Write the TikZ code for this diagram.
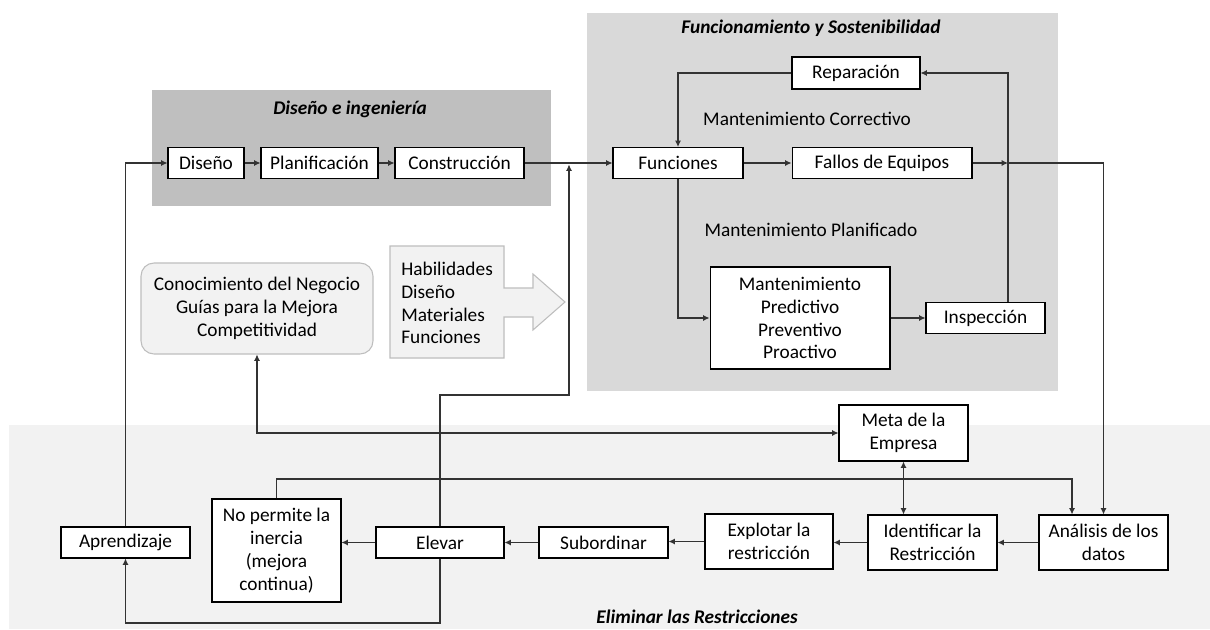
\documentclass[tikz,border=0pt]{standalone}
\usepackage{fontspec}
\setmainfont{Carlito}
\definecolor{bgdark}{RGB}{191,191,191}
\definecolor{bgmid}{RGB}{217,217,217}
\definecolor{bglight}{RGB}{242,242,242}
\definecolor{edgesoft}{RGB}{190,190,190}
\usetikzlibrary{arrows.meta,calc}
\tikzset{
  box/.style={draw=black,line width=0.6pt,fill=white,inner sep=0pt,align=center,
    font=\fontsize{11}{13}\selectfont},
  titletext/.style={font=\fontsize{11}{13}\selectfont\bfseries\itshape},
  plain/.style={font=\fontsize{11}{13}\selectfont},
  link/.style={draw=black!80,line width=0.6pt,-{Latex[length=3.6pt,width=3.4pt]}},
  dlink/.style={draw=black!80,line width=0.6pt,{Latex[length=3.6pt,width=3.4pt]}-{Latex[length=3.6pt,width=3.4pt]}}
}
\begin{document}
\begin{tikzpicture}[x=0.02cm,y=-0.02cm]
        \fill[white] (0,0) rectangle (1210,629);
        \fill[bgdark] (152,90) rectangle (551,206);
        \fill[bgmid] (587,13) rectangle (1058,391);
        \fill[bglight] (9,425) rectangle (1210,629);
        \node[titletext] (tdis) at (350,109) {Diseño e ingeniería};
        \node[titletext] (tfun) at (811,28) {Funcionamiento y Sostenibilidad};
        \node[titletext] (telim) at (697,617) {Eliminar las Restricciones};
        \node[plain] (lcorr) at (807,119) {Mantenimiento Correctivo};
        \node[plain] (lplan) at (811,230) {Mantenimiento Planificado};

        \node[box,minimum width=1.52cm,minimum height=0.62cm] (diseno) at (206,163) {Diseño};
        \node[box,minimum width=2.34cm,minimum height=0.62cm] (planif) at (319.5,163) {Planificación};
        \node[box,minimum width=2.58cm,minimum height=0.62cm] (constr) at (459.5,163) {Construcción};
        \node[box,minimum width=2.6cm,minimum height=0.62cm] (funciones) at (678,163) {Funciones};
        \node[box,minimum width=3.6cm,minimum height=0.62cm] (fallos) at (882,163) {Fallos de Equipos};
        \node[box,minimum width=2.56cm,minimum height=0.64cm] (reparacion) at (856,73) {Reparación};
        \node[box,minimum width=3.6cm,minimum height=2.04cm] (mantenim) at (800,318)
          {Mantenimiento\\Predictivo\\Preventivo\\Proactivo};
        \node[box,minimum width=2.38cm,minimum height=0.62cm] (inspeccion) at (985.5,318) {Inspección};

        \node[box,draw=edgesoft,fill=bglight,rounded corners=0.26cm,minimum width=4.64cm,
          minimum height=1.82cm] (conocim) at (257,308.5)
          {Conocimiento del Negocio\\Guías para la Mejora\\Competitividad};
        \draw[edgesoft,fill=bglight,line width=0.6pt] (390,246) -- (504,246) -- (504,288)
          -- (533,288) -- (533,274) -- (565,302) -- (533,330) -- (533,317) -- (504,317)
          -- (504,358) -- (390,358) -- cycle;
        \node[plain,anchor=west,align=left,inner sep=0pt] (habil) at (401,303)
          {Habilidades\\Diseño\\Materiales\\Funciones};

        \node[box,minimum width=2.58cm,minimum height=1.12cm] (meta) at (903.5,433) {Meta de la\\Empresa};
        \node[box,minimum width=2.58cm,minimum height=1.1cm] (analisis) at (1103.5,542.5) {Análisis de los\\datos};
        \node[box,minimum width=2.58cm,minimum height=1.1cm] (identificar) at (932.5,542.5) {Identificar la\\Restricción};
        \node[box,minimum width=2.56cm,minimum height=1.1cm] (explotar) at (769,541.5) {Explotar la\\restricción};
        \node[box,minimum width=2.58cm,minimum height=0.62cm] (subordinar) at (603.5,542.5) {Subordinar};
        \node[box,minimum width=2.56cm,minimum height=0.62cm] (elevar) at (440,542.5) {Elevar};
        \node[box,minimum width=2.58cm,minimum height=2.06cm] (nopermite) at (276.5,550.5)
          {No permite la\\inercia\\(mejora\\continua)};
        \node[box,minimum width=2.58cm,minimum height=0.62cm] (aprendizaje) at (125.5,542.5) {Aprendizaje};

        \coordinate (upturn) at (569,395);
        \coordinate (upend) at (569,164.5);
        \coordinate (junct) at (1008,163);
        \coordinate (lowturn) at (125.5,623);
        \coordinate (anturn) at (1072,479);

        \draw[link] (diseno) -- (planif);
        \draw[link] (planif) -- (constr);
        \draw[link] (constr) -- (funciones);
        \draw[link] (funciones) -- (fallos);
        \draw[link] (fallos) -- (junct);
        \draw[link] (junct) -| (analisis.north);
        \draw[link] (reparacion.west) -| (funciones.north);
        \draw[link] (funciones.south) |- (mantenim.west);
        \draw[link] (mantenim) -- (inspeccion);
        \draw[link] (inspeccion.north -| junct) |- (reparacion.east);
        \draw[link] (aprendizaje.north) |- (diseno.west);
        \draw[link] (elevar.north) |- (upturn) -- (upend);
        \draw[link] (elevar.south) |- (lowturn) -- (aprendizaje.south);
        \draw[link] (analisis) -- (identificar);
        \draw[link] (identificar.west) -- (identificar.west -| explotar.east);
        \draw[link] (explotar.west) -- (explotar.west -| subordinar.east);
        \draw[link] (subordinar) -- (elevar);
        \draw[link] (elevar.west) -- (elevar.west -| nopermite.east);
        \draw[link] (nopermite.north) |- (anturn) -- (anturn |- analisis.north);
        \draw[dlink] (meta.south) -- (meta.south |- identificar.north);
        \draw[dlink] (conocim.south) |- (meta.west);
      \end{tikzpicture}
\end{document}
